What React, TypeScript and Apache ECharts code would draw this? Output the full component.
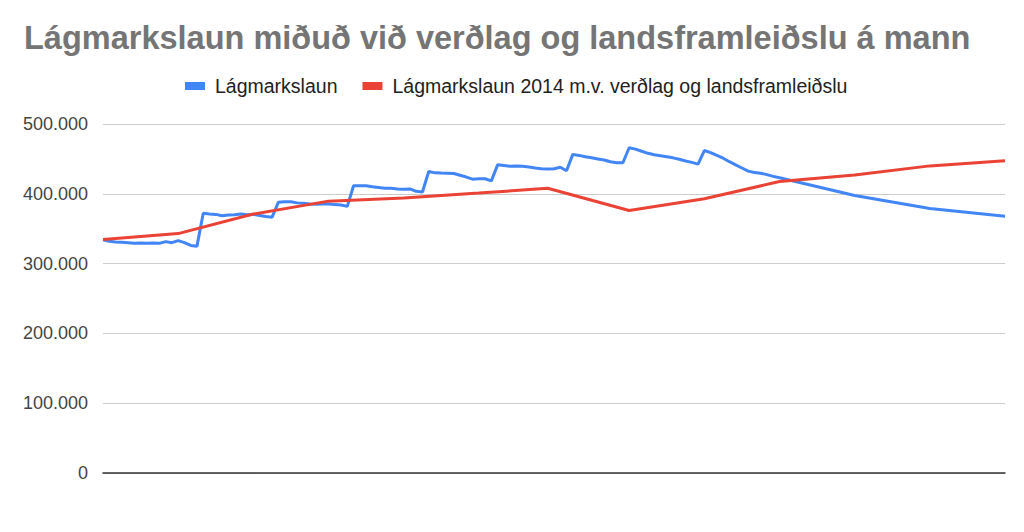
import React, { useEffect, useRef } from "react";
import * as echarts from "echarts";

// Monthly categories, Jan 2014 .. Jan 2026
const months: string[] = [];
for (let y = 2014; y <= 2026; y++) {
  for (let m = 1; m <= 12; m++) {
    if (y === 2026 && m > 1) break;
    months.push(`${y}-${String(m).padStart(2, "0")}`);
  }
}

// Lágmarkslaun (monthly until index 108, then yearly values)
const blueMonthly: number[] = [
  334000, 332000, 331000, 330500, 330000, 329000, 329500, 329000, 329500, 329000, 331500, 330000,
  333000, 330000, 326000, 325000, 372000, 371000, 370500, 368500, 369500, 370000, 371000, 370000,
  370500, 369000, 367500, 366500, 388000, 388500, 388500, 387000, 386500, 385500, 385000, 385500,
  385500, 384500, 384000, 382000, 411500, 411500, 411500, 410000, 409000, 408000, 408000, 407000,
  406500, 407000, 403500, 402500, 432000, 430000, 429700, 429500, 429000, 426500, 424000, 421000,
  421500, 421500, 418500, 441500, 440500, 439500, 440000, 439500, 438500, 437000, 436000, 435500,
  436000, 438000, 433000, 456500, 455000, 453000, 451500, 450000, 448500, 446000, 444500, 444500,
  466000, 464000, 461000, 458000, 456000, 454500, 453000, 451500, 449500, 447000, 445000, 442500,
  462000, 459000, 455000, 451000, 446000, 441500, 437000, 432500, 430500, 429500, 427500, 425000,
  423000,
];
const blueYearlyIdx: number[] = [120, 132, 144];
const blueYearlyVal: number[] = [397500, 379000, 368000];

// Lágmarkslaun 2014 m.v. verðlag og landsframleiðslu (anchor points)
const redIdx: number[] = [0, 12, 24, 36, 48, 60, 71, 84, 96, 108, 120, 132, 144];
const redVal: number[] = [334500, 343000, 371000, 389500, 394000, 401000, 408000, 376000, 393000, 417500, 427000, 440000, 447500];

const yTicks = { min: 0, max: 500000, interval: 100000 };

function buildSeries(idx: number[], val: number[], base: (number | null)[]) {
  const arr = base.slice();
  idx.forEach((i, k) => (arr[i] = val[k]));
  return arr;
}

const FONT = "'Liberation Sans', Arial, Helvetica, sans-serif";

export default function App() {
  const ref = useRef<HTMLDivElement>(null);
  useEffect(() => {
    if (!ref.current) return;
    const chart = echarts.init(ref.current, null, { renderer: "svg" });
    const empty: (number | null)[] = months.map(() => null);
    const blueBase = empty.slice();
    blueMonthly.forEach((v, i) => (blueBase[i] = v));
    const blue = buildSeries(blueYearlyIdx, blueYearlyVal, blueBase);
    const red = buildSeries(redIdx, redVal, empty);
    const fmt = (v: number) => String(v).replace(/\B(?=(\d{3})+(?!\d))/g, ".");
    chart.setOption({
      animation: false,
      backgroundColor: "#ffffff",
      title: {
        text: "Lágmarkslaun miðuð við verðlag og landsframleiðslu á mann",
        left: 19,
        top: 16,
        textStyle: { fontFamily: FONT, fontSize: 32.5, fontWeight: "bold", color: "#757575" },
      },
      legend: {
        top: 71,
        left: 180,
        icon: "rect",
        itemWidth: 20,
        itemHeight: 8,
        itemGap: 25,
        textStyle: { fontFamily: FONT, fontSize: 19.5, color: "#222222", padding: [0, 0, 0, 5] },
        data: ["Lágmarkslaun", "Lágmarkslaun 2014 m.v. verðlag og landsframleiðslu"],
      },
      grid: { left: 103, right: 19, top: 124, bottom: 59, containLabel: false },
      xAxis: {
        type: "category",
        data: months,
        boundaryGap: false,
        axisLine: { show: true, lineStyle: { color: "#333333", width: 1.5 } },
        axisTick: { show: false },
        axisLabel: { show: false },
        splitLine: { show: false },
      },
      yAxis: {
        type: "value",
        min: yTicks.min,
        max: yTicks.max,
        interval: yTicks.interval,
        axisLine: { show: false },
        axisTick: { show: false },
        axisLabel: { fontFamily: FONT, fontSize: 18, color: "#444444", margin: 15, formatter: fmt },
        splitLine: { lineStyle: { color: "#cccccc", width: 1 } },
      },
      series: [
        {
          name: "Lágmarkslaun",
          type: "line",
          data: blue,
          connectNulls: true,
          showSymbol: false,
          symbol: "none",
          lineStyle: { color: "#4285F4", width: 3 },
          itemStyle: { color: "#4285F4" },
        },
        {
          name: "Lágmarkslaun 2014 m.v. verðlag og landsframleiðslu",
          type: "line",
          data: red,
          connectNulls: true,
          showSymbol: false,
          symbol: "none",
          lineStyle: { color: "#EA4335", width: 3 },
          itemStyle: { color: "#EA4335" },
        },
      ],
    });
    return () => chart.dispose();
  }, []);
  return (
    <div
      ref={ref}
      style={{ position: "fixed", left: 0, top: 0, width: 1024, height: 532, background: "#fff" }}
    />
  );
}
